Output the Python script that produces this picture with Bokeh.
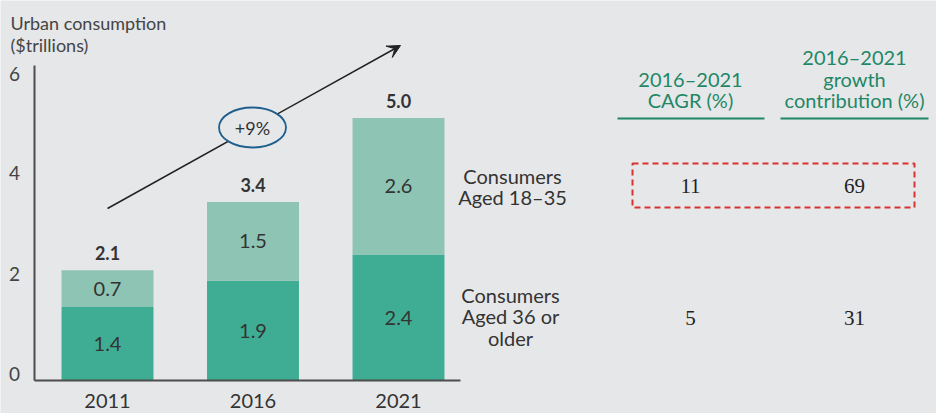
from bokeh.plotting import figure
from bokeh.models import ColumnDataSource, Range1d, Arrow, VeeHead
from bokeh.core.properties import value
from bokeh.embed import file_html
from bokeh.resources import INLINE

# ---- data ----
years = ["2011", "2016", "2021"]
older = [1.4, 1.9, 2.4]
younger = [0.7, 1.5, 2.6]
totals = ["2.1", "3.4", "5.0"]
y_ticks = [0, 2, 4, 6]
cagr = ["11", "5"]
contribution = ["69", "31"]
arrow_label = "+9%"
series_labels = ["Consumers\nAged 18\u201335", "Consumers\nAged 36 or\nolder"]
header_labels = ["2016\u20132021\nCAGR (%)", "2016\u20132021\ngrowth\ncontribution (%)"]
title = "Urban consumption\n($trillions)"

# ---- style ----
BG = "#e6e7e9"
DARK = "#3fad93"
LIGHT = "#8dc4b4"
TXT = "#333333"
GREEN = "#1f8766"
FONT = value("Lato")
SERIF = value("Liberation Serif")

W, H = 936, 413
X0, XS = 107, 145.5
Y0, YS = 380, 52.5


def dx(px):
    return (px - X0) / XS


def dy(py):
    return (Y0 - py) / YS


p = figure(width=W, height=H, output_backend="svg", toolbar_location=None,
           x_range=Range1d(dx(0), dx(W)), y_range=Range1d(dy(H), dy(0)),
           min_border=0, x_axis_location=None, y_axis_location=None,
           background_fill_color=BG, border_fill_color=BG)
p.grid.visible = False
p.outline_line_color = None

idx = list(range(len(years)))
tops = [a + b for a, b in zip(older, younger)]
src = ColumnDataSource(dict(x=idx, older=older, younger=younger, top=tops,
                            mid_old=[o / 2 for o in older],
                            mid_young=[o + y / 2 for o, y in zip(older, younger)],
                            old_lbl=[f"{v:.1f}" for v in older],
                            young_lbl=[f"{v:.1f}" for v in younger],
                            tot=totals, year=years))

# growth arrow (drawn under everything else so the ellipse masks it)
p.add_layout(Arrow(x_start=dx(107), y_start=dy(208), x_end=dx(400), y_end=dy(45),
                   line_color="#222222", line_width=1.5, level="underlay",
                   end=VeeHead(size=13, fill_color="#222222", line_color="#222222")))

p.vbar(x="x", bottom=0, top="older", width=0.632, source=src,
       fill_color=DARK, line_color=None)
p.vbar(x="x", bottom="older", top="top", width=0.632, source=src,
       fill_color=LIGHT, line_color=None)

lbl = dict(text_font=FONT, text_font_size="20px", text_color=TXT,
           text_align="center", text_baseline="middle")
p.text(x="x", y="mid_old", text="old_lbl", source=src, **lbl)
p.text(x="x", y="mid_young", text="young_lbl", source=src, **lbl)
p.text(x="x", y="top", text="tot", source=src, y_offset=-17,
       text_font=FONT, text_font_size="18px", text_color=TXT,
       text_align="center", text_baseline="middle", text_font_style="bold")
p.text(x="x", y=dy(400), text="year", source=src, **lbl)

# axes
p.segment(x0=dx(34), y0=0, x1=dx(34), y1=6, line_color="#4d4d4d", line_width=2)
p.segment(x0=dx(34), y0=0, x1=dx(460), y1=0, line_color="#4d4d4d", line_width=2)
p.text(x=[dx(14)] * len(y_ticks), y=y_ticks, text=[str(t) for t in y_ticks],
       y_offset=[-7, -2, 2, 8],
       text_font=FONT, text_font_size="19px", text_color="#444444",
       text_align="center", text_baseline="middle")

# title
p.text(x=[dx(10)], y=[dy(11)], text=[title], text_font=FONT,
       text_font_size="18px", text_color="#444444", text_align="left",
       text_baseline="top", text_line_height=1.0)

p.ellipse(x=[dx(252)], y=[dy(127)], width=[67], height=[40],
          width_units="screen", height_units="screen",
          fill_color=BG, line_color="#1f5f8e", line_width=1.8)
p.text(x=[dx(252)], y=[dy(127)], text=[arrow_label], text_font=FONT,
       text_font_size="18px", text_color=TXT, text_align="center",
       text_baseline="middle")

# series labels
p.text(x=[dx(512), dx(510)], y=[dy(186), dy(316)], text=series_labels,
       text_line_height=0.88, **lbl)

# table headers
p.text(x=[dx(690), dx(854)], y=[dy(112), dy(112)], text=header_labels,
       text_font=FONT, text_font_size="20px", text_color=GREEN,
       text_align="center", text_baseline="bottom", text_line_height=0.9)
p.segment(x0=[dx(617), dx(780)], y0=[dy(118)] * 2, x1=[dx(764), dx(928)],
          y1=[dy(118)] * 2, line_color=GREEN, line_width=2)

# table values
p.text(x=[dx(690)] * 2, y=[dy(185), dy(317)], text=cagr, text_font=SERIF,
       text_font_size="21px", text_color="#222222", text_align="center",
       text_baseline="middle")
p.text(x=[dx(854)] * 2, y=[dy(185), dy(317)], text=contribution, text_font=SERIF,
       text_font_size="21px", text_color="#222222", text_align="center",
       text_baseline="middle")

# highlight box
p.quad(left=[dx(632)], right=[dx(914)], bottom=[dy(207)], top=[dy(163)],
       fill_color=None, line_color="#d7322f", line_width=2, line_dash="6 4")

open("out.html", "w").write(file_html(p, INLINE))
